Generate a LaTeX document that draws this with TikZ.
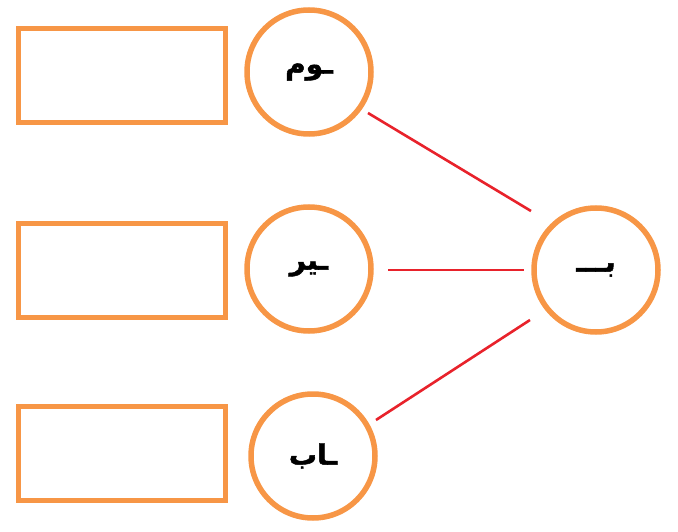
\documentclass[tikz,border=0pt]{standalone}
\usepackage{fontspec}
\TeXXeTstate=1
\newfontfamily\arabicfont[Script=Arabic,FakeBold=1.6]{DejaVu Sans Bold}
\definecolor{boxorange}{HTML}{F79646}
\definecolor{linkred}{HTML}{E8222B}
\begin{document}
\begin{tikzpicture}[x=1pt,y=-1pt,
  answerbox/.style={draw=boxorange,line width=5pt,minimum width=207pt,minimum height=94pt,inner sep=0pt},
  syllable/.style={circle,draw=boxorange,line width=5.5pt,minimum size=124pt,inner sep=0pt,font=\arabicfont\fontsize{28}{30}\selectfont},
  link/.style={draw=linkred,line width=2.6pt}]
\useasboundingbox (0,0) rectangle (678,532);
\node[answerbox] (b1) at (122,76) {};
\node[answerbox] (b2) at (122,270.5) {};
\node[answerbox] (b3) at (122,453) {};
\node[syllable] (c1) at (309,72) {\beginR ـوم\endR};
\node[syllable] (c2) at (309,269) {\beginR ـير\endR};
\node[syllable] (c3) at (313,456) {\beginR ـاب\endR};
\node[syllable] (c4) at (596,270) {\beginR بـــ\endR};
\coordinate (p1) at (368,113);
\coordinate (q1) at (531,211);
\coordinate (p2) at (388,270);
\coordinate (q2) at (524,270);
\coordinate (p3) at (376,420);
\coordinate (q3) at (530,320);
\draw[link] (p1) -- (q1);
\draw[link] (p2) -- (q2);
\draw[link] (p3) -- (q3);
\end{tikzpicture}
\end{document}
